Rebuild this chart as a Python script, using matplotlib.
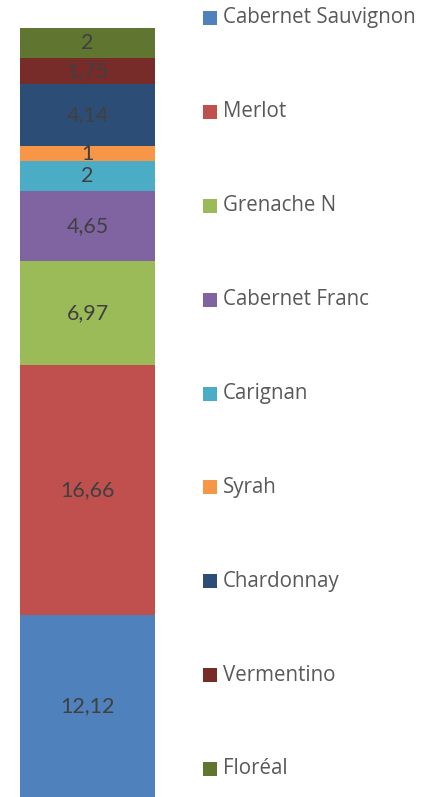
import matplotlib.pyplot as plt
from matplotlib.patches import Rectangle

# données
cepages = ['Cabernet Sauvignon', 'Merlot', 'Grenache N', 'Cabernet Franc',
           'Carignan', 'Syrah', 'Chardonnay', 'Vermentino', 'Floréal']
valeurs = [12.12, 16.66, 6.97, 4.65, 2, 1, 4.14, 1.75, 2]
etiquettes = ['12,12', '16,66', '6,97', '4,65', '2', '1', '4,14', '1,75', '2']
couleurs = ['#4F81BD', '#C0504D', '#9BBB59', '#8064A2', '#4BACC6',
            '#F79646', '#2C4D75', '#772C2A', '#5F7530']

W, H = 432, 797
fig = plt.figure(figsize=(W / 100, H / 100), dpi=100)
plt.rcParams['font.family'] = ['Lato', 'DejaVu Sans']

ax = fig.add_axes([20 / W, 0, 135 / W, 769 / H])
bas = 0
for v, lab, c in zip(valeurs, etiquettes, couleurs):
    ax.bar(0, v, bottom=bas, width=1, color=c, linewidth=0)
    ax.text(0, bas + v / 2, lab, ha='center', va='center',
            fontsize=15.5, color='#404040')
    bas += v
ax.set_xlim(-0.5, 0.5)
ax.set_ylim(0, bas)
ax.axis('off')

# légende dessinée à la main
y0, y1 = 18, 769
pas = (y1 - y0) / (len(cepages) - 1)
for i, (nom, c) in enumerate(zip(cepages, couleurs)):
    yc = y0 + i * pas
    fig.add_artist(Rectangle((203 / W, 1 - (yc + 7) / H), 14 / W, 14 / H,
                             transform=fig.transFigure, color=c, lw=0))
    fig.text(223 / W, 1 - yc / H, nom, ha='left', va='center',
             fontsize=14.8, color='#595959', family=['Open Sans', 'DejaVu Sans'])

fig.savefig('out.png', dpi=100)
